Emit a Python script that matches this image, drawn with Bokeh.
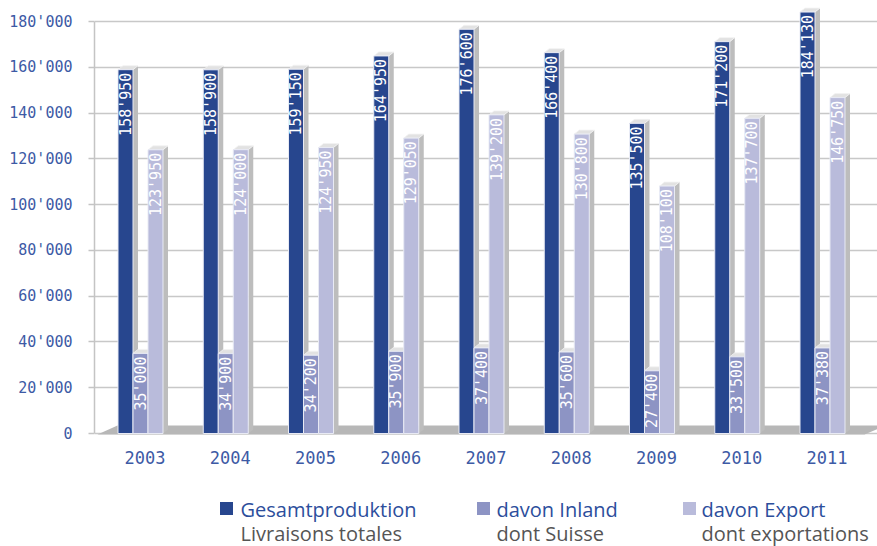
import math
import numpy as np
from bokeh.plotting import figure
from bokeh.models import Range1d, FixedTicker
from bokeh.layouts import column
from bokeh.core.properties import value
from bokeh.embed import file_html
from bokeh.resources import INLINE

# ---------------- data ----------------
years = ["2003", "2004", "2005", "2006", "2007", "2008", "2009", "2010", "2011"]
gesamt = [158950, 158900, 159150, 164950, 176600, 166400, 135500, 171200, 184130]
inland = [35000, 34900, 34200, 35900, 37400, 35600, 27400, 33500, 37380]
export = [123950, 124000, 124950, 129050, 139200, 130800, 108100, 137700, 146750]
y_ticks = [0, 20000, 40000, 60000, 80000, 100000, 120000, 140000, 160000, 180000]
y_tick_labels = ["0", "20'000", "40'000", "60'000", "80'000", "100'000",
                 "120'000", "140'000", "160'000", "180'000"]
series_de = ["Gesamtproduktion", "davon Inland", "davon Export"]
series_fr = ["Livraisons totales", "dont Suisse", "dont exportations"]

# ---------------- style / geometry ----------------
colors = ["#27468e", "#8d94c4", "#b9bbdb"]
side_color = "#bdbdbd"
top_color = "#e2e2e2"
axis_text = "#3d5aa5"
digital = value("DejaVu Sans Mono")

W = 877
H_MAIN = 470
H_LEG = 76
FRAME_L = 94

GROUP_PX = 85.25            # px per category
C0 = 144.5                  # px centre of first category
Y_PX = 412.0 / 180000.0     # px per unit
ZERO_PX = 433.0
BAR_W = 15.0 / GROUP_PX
DX = 5.0 / GROUP_PX
DY = 4.0 / Y_PX
OFFS = [-19.5 / GROUP_PX, -4.5 / GROUP_PX, 10.5 / GROUP_PX]
TXT_OFF = 3.0 / Y_PX

x_left = (FRAME_L - C0) / GROUP_PX
x_right = (W - C0) / GROUP_PX
y_end = ZERO_PX / Y_PX
y_start = -7.0 / Y_PX

idx = np.arange(len(years), dtype=float)

p = figure(width=W, height=H_MAIN, output_backend="svg", toolbar_location=None,
           x_range=Range1d(x_left, x_right), y_range=Range1d(y_start, y_end),
           min_border_left=FRAME_L, min_border_right=0, min_border_top=0,
           min_border_bottom=30)
p.outline_line_color = None
p.xgrid.grid_line_color = None
p.ygrid.ticker = FixedTicker(ticks=y_ticks)
p.ygrid.grid_line_color = "#c8c8c8"
p.ygrid.grid_line_width = 1.5

# y axis
p.yaxis.ticker = FixedTicker(ticks=y_ticks)
p.yaxis.major_label_overrides = {t: l for t, l in zip(y_ticks, y_tick_labels)}
p.yaxis.bounds = (0, max(y_ticks))
p.yaxis.axis_line_color = "#c4c4c4"
p.yaxis.axis_line_width = 1.5
p.yaxis.major_tick_line_color = "#c4c4c4"
p.yaxis.major_tick_line_width = 1.5
p.yaxis.major_tick_out = 6
p.yaxis.major_tick_in = 0
p.yaxis.minor_tick_line_color = None
p.yaxis.major_label_standoff = 16
p.yaxis.major_label_text_font = "DejaVu Sans Mono"
p.yaxis.major_label_text_font_size = "15px"
p.yaxis.major_label_text_color = axis_text

# x axis
p.xaxis.ticker = FixedTicker(ticks=list(range(len(years))))
p.xaxis.major_label_overrides = {i: y for i, y in enumerate(years)}
p.xaxis.axis_line_color = None
p.xaxis.major_tick_line_color = None
p.xaxis.minor_tick_line_color = None
p.xaxis.major_label_standoff = 4
p.xaxis.major_label_text_font = "DejaVu Sans Mono"
p.xaxis.major_label_text_font_size = "17px"
p.xaxis.major_label_text_color = axis_text

# floor
n = len(years)
last_c = C0 + (n - 1) * GROUP_PX
fl_front_l = (97 - C0) / GROUP_PX
fl_back_l = (117 - C0) / GROUP_PX
fl_back_r = (n - 1) + (885 - last_c) / GROUP_PX
fl_front_r = (n - 1) + (864 - last_c) / GROUP_PX
p.patch([fl_front_l, fl_back_l, fl_back_r, fl_front_r],
        [-1.0 / Y_PX, 8.0 / Y_PX, 8.0 / Y_PX, -1.0 / Y_PX],
        fill_color="#b7b7b7", line_color=None)

# bars
for j, vals in enumerate([gesamt, inland, export]):
    vals = np.array(vals, dtype=float)
    xc = idx + OFFS[j]
    x0 = xc - BAR_W / 2
    x1 = xc + BAR_W / 2
    side_xs = [[a, a + DX, a + DX, a] for a in x1]
    side_ys = [[0, DY, v + DY, v] for v in vals]
    top_xs = [[a, a + DX, b + DX, b] for a, b in zip(x0, x1)]
    top_ys = [[v, v + DY, v + DY, v] for v in vals]
    p.patches(side_xs, side_ys, fill_color=side_color, line_color=None)
    p.patches(top_xs, top_ys, fill_color=top_color, line_color="#f2f2f2", line_width=0.8)
    p.quad(left=x0, right=x1, bottom=0, top=vals, fill_color=colors[j],
           line_color="#e8eaf4", line_width=1)
    labels = [f"{int(v):,}".replace(",", "'") for v in vals]
    p.text(x=xc, y=vals - TXT_OFF, text=labels, angle=math.pi / 2,
           text_align="right", text_baseline="middle", text_font=digital,
           text_font_size="15px", text_color="white")

# ---------------- legend ----------------
leg = figure(width=W, height=H_LEG, output_backend="svg", toolbar_location=None,
             x_range=Range1d(FRAME_L, W), y_range=Range1d(H_MAIN + H_LEG, H_MAIN),
             x_axis_location=None, y_axis_location=None,
             min_border_left=FRAME_L, min_border_right=0,
             min_border_top=0, min_border_bottom=0)
leg.outline_line_color = None
leg.grid.visible = False
sq_x = [226, 483, 689]
txt_x = [240, 496, 701]
leg.scatter(x=sq_x, y=[508] * 3, marker="square", size=13,
            fill_color=colors, line_color=None)
leg.text(x=txt_x, y=[509] * 3, text=series_de, text_font=value("Open Sans"),
         text_font_size="20px", text_color="#2c4e9c", text_baseline="middle")
leg.text(x=txt_x, y=[533] * 3, text=series_fr, text_font=value("Open Sans"),
         text_font_size="20px", text_color="#555555", text_baseline="middle")

layout = column(p, leg, spacing=0)
open("out.html", "w").write(file_html(layout, INLINE))
